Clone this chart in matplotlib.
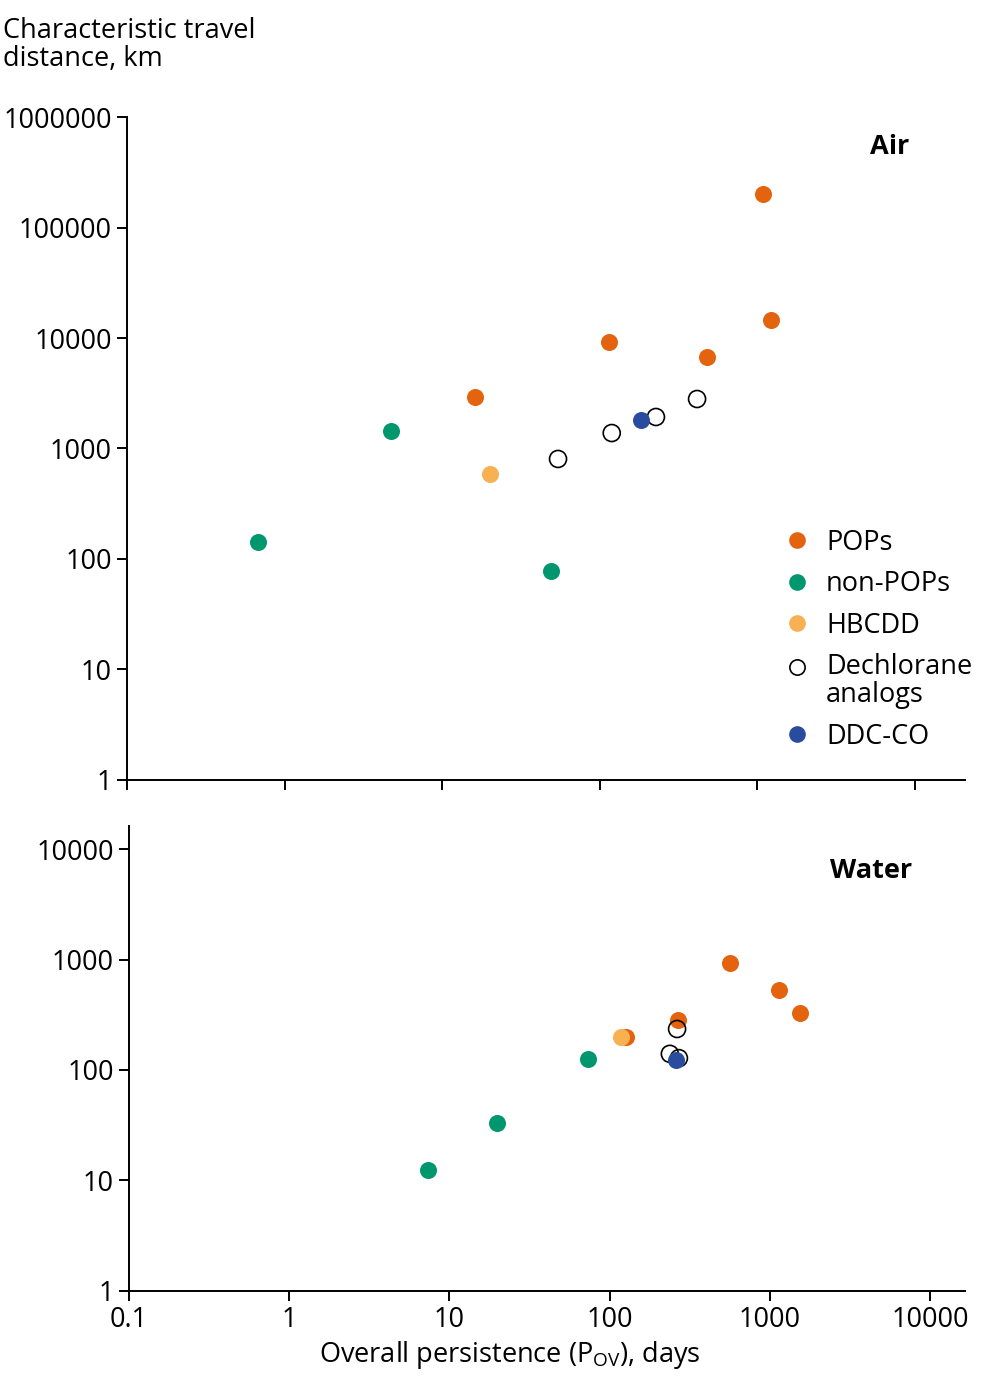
import matplotlib.pyplot as plt
from matplotlib.lines import Line2D
from matplotlib.legend_handler import HandlerLine2D

plt.rcParams['font.family'] = ['Open Sans', 'DejaVu Sans']
plt.rcParams['mathtext.fontset'] = 'custom'
plt.rcParams['mathtext.rm'] = 'Open Sans'

# colours
c_pops = '#E3630E'
c_nonpops = '#00976F'
c_hbcdd = '#F8B152'
c_ddc = '#2A4C9E'

# Air panel (persistence days, travel distance km)
air_pops_x = [1086, 1220, 114, 479, 16.1]
air_pops_y = [201000, 14550, 9200, 6730, 2925]
air_nonpops_x = [4.73, 0.678, 49]
air_nonpops_y = [1440, 142, 78]
air_hbcdd_x = [20.1]
air_hbcdd_y = [588]
air_dech_x = [54.3, 119, 227, 414]
air_dech_y = [804, 1380, 1928, 2805]
air_ddc_x = [182]
air_ddc_y = [1811]

# Water panel
wat_pops_x = [565, 1141, 1545, 267, 127]
wat_pops_y = [929, 530, 328, 283, 199]
wat_nonpops_x = [73.3, 19.8, 7.35]
wat_nonpops_y = [126, 33.1, 12.4]
wat_hbcdd_x = [118]
wat_hbcdd_y = [199]
wat_dech_x = [264, 238, 271]
wat_dech_y = [235, 140, 128]
wat_ddc_x = [260]
wat_ddc_y = [123]

xticks = [0.1, 1, 10, 100, 1000, 10000]
xticklabels = ['0.1', '1', '10', '100', '1000', '10000']

FS = 19.5

fig = plt.figure(figsize=(9.87, 13.77), dpi=100)
ax1 = fig.add_axes([0.1287, 0.4336, 0.849, 0.4814])
ax2 = fig.add_axes([0.1307, 0.0625, 0.847, 0.3376])

S = 150


def draw(ax, px, py, nx, ny, hx, hy, dx, dy, cx, cy):
    ax.scatter(px, py, s=S, c=c_pops, lw=0, zorder=3)
    ax.scatter(nx, ny, s=S, c=c_nonpops, lw=0, zorder=3)
    ax.scatter(hx, hy, s=S, c=c_hbcdd, lw=0, zorder=4)
    ax.scatter(dx, dy, s=S, facecolors='none', edgecolors='black', lw=1.2, zorder=5)
    ax.scatter(cx, cy, s=S, c=c_ddc, lw=0, zorder=6)


draw(ax1, air_pops_x, air_pops_y, air_nonpops_x, air_nonpops_y, air_hbcdd_x, air_hbcdd_y,
     air_dech_x, air_dech_y, air_ddc_x, air_ddc_y)
draw(ax2, wat_pops_x, wat_pops_y, wat_nonpops_x, wat_nonpops_y, wat_hbcdd_x, wat_hbcdd_y,
     wat_dech_x, wat_dech_y, wat_ddc_x, wat_ddc_y)

for ax in (ax1, ax2):
    ax.set_xscale('log')
    ax.set_yscale('log')
    ax.spines['top'].set_visible(False)
    ax.spines['right'].set_visible(False)
    for sp in ('left', 'bottom'):
        ax.spines[sp].set_linewidth(1.4)
    ax.tick_params(which='major', length=7, width=1.4, labelsize=FS, direction='out', pad=4)
    ax.tick_params(which='minor', length=0)
    ax.set_xticks(xticks)

ax1.set_xlim(0.1, 10 ** 4.317)
ax1.set_ylim(1, 1e6)
ax1.set_yticks([1, 10, 100, 1000, 10000, 100000, 1000000])
ax1.set_yticklabels(['1', '10', '100', '1000', '10000', '100000', '1000000'])
ax1.set_xticklabels([])

ax2.set_xlim(0.1, 10 ** 4.219)
ax2.set_ylim(1, 10 ** 4.208)
ax2.set_yticks([1, 10, 100, 1000, 10000])
ax2.set_yticklabels(['1', '10', '100', '1000', '10000'])
ax2.set_xticklabels(xticklabels)
ax2.set_xlabel('Overall persistence (P$_{\\mathrm{OV}}$), days', fontsize=FS)
ax2.xaxis.set_label_coords(0.456, -0.104)

ax1.text(0.9105, 0.9548, 'Air', transform=ax1.transAxes, fontsize=FS, fontweight='bold', ha='center', va='center')
ax2.text(0.8876, 0.903, 'Water', transform=ax2.transAxes, fontsize=FS, fontweight='bold', ha='center', va='center')

fig.text(0.003, 0.988, 'Characteristic travel\ndistance, km', fontsize=FS, ha='left', va='top', linespacing=1.0)


# marker for the two-line entry sits on the first line
class TopLineHandler(HandlerLine2D):
    def create_artists(self, legend, orig_handle, xdescent, ydescent, width, height, fontsize, trans):
        arts = super().create_artists(legend, orig_handle, xdescent, ydescent, width, height, fontsize, trans)
        for a in arts:
            a.set_ydata([v + 11 for v in a.get_ydata()])
        return arts


handles = [
    Line2D([], [], ls='none', marker='o', ms=12, mfc=c_pops, mec='none'),
    Line2D([], [], ls='none', marker='o', ms=12, mfc=c_nonpops, mec='none'),
    Line2D([], [], ls='none', marker='o', ms=12, mfc=c_hbcdd, mec='none'),
    Line2D([], [], ls='none', marker='o', ms=11, mfc='none', mec='black', mew=1.2),
    Line2D([], [], ls='none', marker='o', ms=12, mfc=c_ddc, mec='none'),
]
labels = ['POPs', 'non-POPs', 'HBCDD', 'Dechlorane\nanalogs', 'DDC-CO']
leg = ax1.legend(handles, labels, loc='upper left', bbox_to_anchor=(0.797, 0.616), bbox_transform=fig.transFigure,
                 frameon=False, fontsize=FS, handlelength=0.8, handletextpad=0.65, labelspacing=0.5,
                 borderaxespad=0, borderpad=0, handler_map={handles[3]: TopLineHandler()})
leg.get_texts()[3].set_linespacing(1.0)

fig.savefig('out.png', dpi=100)
